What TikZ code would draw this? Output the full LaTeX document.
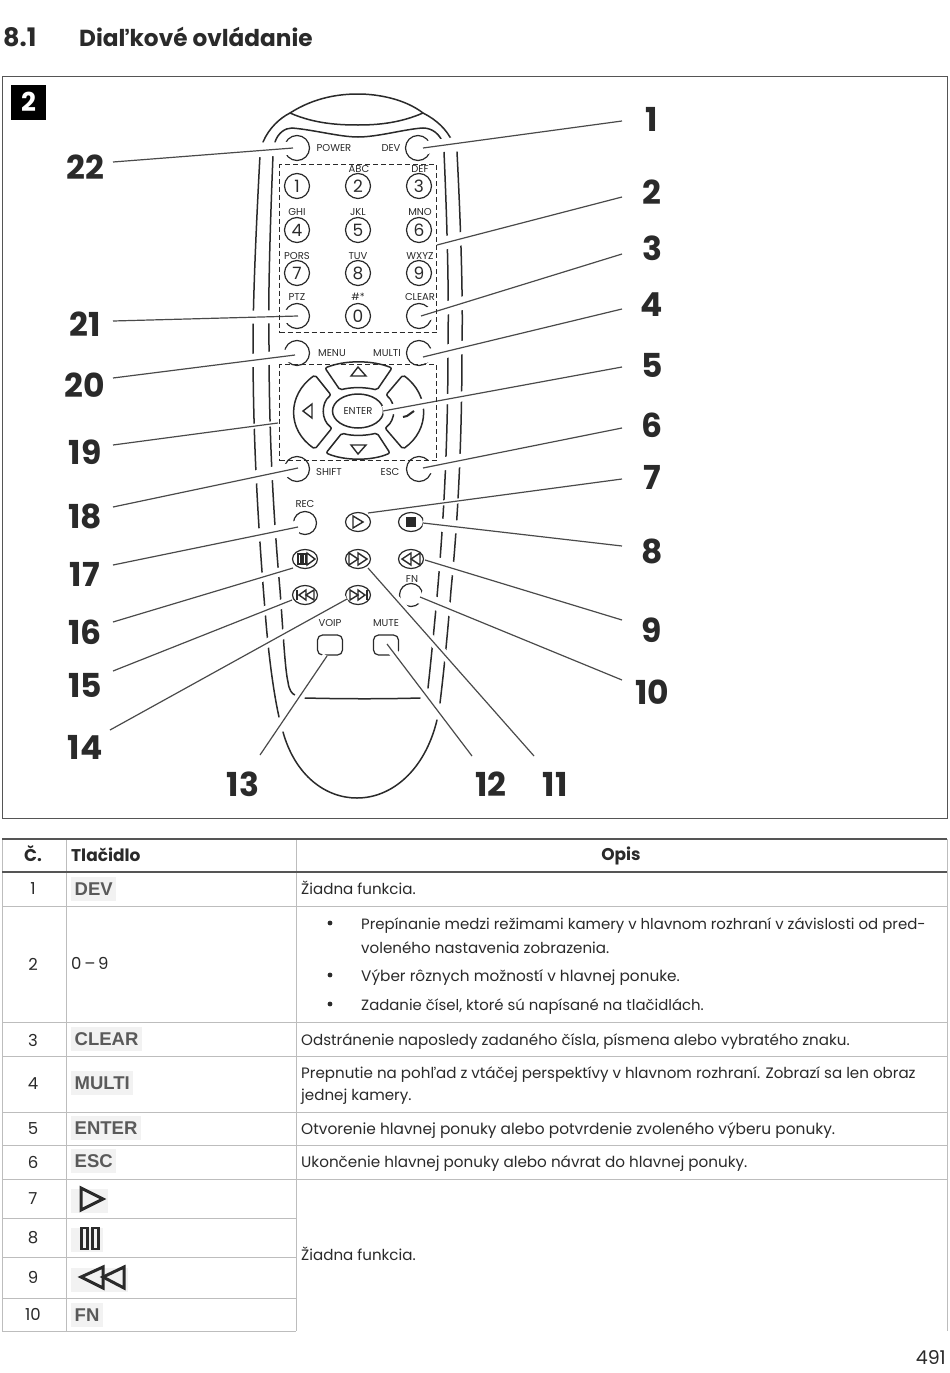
\documentclass[tikz,border=0pt]{standalone}
\usepackage{fontspec}
\setmainfont{Poppins}
\newfontfamily\keyfont{Liberation Sans}
\usetikzlibrary{shapes.geometric}
\definecolor{tline}{HTML}{BDBDBD}
\definecolor{tdark}{HTML}{555555}
\definecolor{ink}{HTML}{2A2A2A}
\definecolor{keybg}{HTML}{F2F2F2}
\definecolor{keytx}{HTML}{5A5A5A}
\tikzset{
 body/.style={line width=1.5pt,draw=ink,line cap=round},
 leader/.style={line width=1.2pt,draw=ink!85,preaction={draw=white,line width=#1,line cap=butt}},
 leader/.default=13pt,
 bignum/.style={font=\fontsize{33}{33}\selectfont\bfseries,text=ink,inner sep=0pt},
 btn/.style={circle,draw=ink,line width=1.2pt,minimum size=25pt,inner sep=0pt,font=\fontsize{17}{17}\selectfont,text=ink},
 oval/.style={ellipse,draw=ink,line width=1.2pt,minimum width=25pt,minimum height=19pt,inner sep=0pt},
 rbtn/.style={draw=ink,line width=1.2pt,rounded corners=5pt,minimum width=25pt,minimum height=20pt,inner sep=0pt},
 lab/.style={font=\fontsize{10}{10}\selectfont,text=ink,inner sep=0pt},
 dashbox/.style={draw=ink,line width=1pt,dash pattern=on 5pt off 3pt},
 icon/.style={draw=ink,line width=1.4pt,line join=miter},
 tx/.style={anchor=base west,font=\fontsize{15.1}{24}\selectfont,text=ink,inner sep=0pt},
 cn/.style={font=\fontsize{16.5}{20}\selectfont,text=ink,inner sep=0pt},
 th/.style={font=\fontsize{17}{20}\selectfont\bfseries,text=ink,inner sep=0pt},
 key/.style={anchor=west,font=\keyfont\fontsize{18.5}{20}\selectfont\bfseries,text=keytx,fill=keybg,inner xsep=3.5pt,inner ysep=0pt,minimum height=24pt},
 gl/.style={draw=tline,line width=1pt},
 gd/.style={draw=tdark,line width=1.6pt},
 ticon/.style={draw=ink,line width=3pt,line join=miter},
}
\newcommand{\ldr}[5][13pt]{\draw[leader={#1}] ([shift={(#3)}]#2.center) -- ([shift={(#5)}]#4);}
\begin{document}
\begin{tikzpicture}[x=1pt,y=-1pt]
\useasboundingbox (0,0) rectangle (950,1373);
\fill[white] (0,0) rectangle (950,1373);
% heading
\node[anchor=base west,inner sep=0pt,font=\fontsize{25.5}{24}\selectfont\bfseries,text=ink] (hnum) at (3,46) {8.1};
\node[anchor=base west,inner sep=0pt,font=\fontsize{23.2}{24}\selectfont\bfseries,text=ink] (htitle) at (79,46) {Diaľkové ovládanie};
% frame
\node[draw=tdark,line width=1pt,minimum width=945pt,minimum height=742pt,inner sep=0pt,anchor=north west] (frame) at (2,76) {};
\node[fill=black,text=white,minimum size=35pt,inner sep=0pt,font=\fontsize{26}{26}\selectfont\bfseries] (tag) at (28.5,102) {2};
% remote body
\draw[body] (263,142) .. controls (269,128) and (280,118) .. (290,113) .. controls (315,97) and (340,94) .. (358,94) .. controls (378,94) and (405,99) .. (423,113) .. controls (437,120) and (447,130) .. (452,141);
\draw[body] (290,113) .. controls (315,124) and (340,125) .. (358,125) .. controls (378,125) and (400,123) .. (423,113);
\draw[body] (275,142) .. controls (278,133) and (285,128) .. (292,128) .. controls (315,130) and (340,137) .. (358,137) .. controls (378,137) and (405,129) .. (423,128) .. controls (433,128) and (440,135) .. (443,143);
\draw[body] (260,155) .. controls (256,230) and (253,300) .. (253,345) .. controls (253,420) and (256,500) .. (265,610) .. controls (268,650) and (273,690) .. (279,717);
\draw[body] (273,155) .. controls (270,230) and (268,300) .. (269,345) .. controls (269,420) and (272,500) .. (280,590) .. controls (283,630) and (285,670) .. (288,682) .. controls (289,690) and (292,694) .. (295,695);
\draw[body] (444,152) .. controls (447,220) and (449,290) .. (448,345) .. controls (448,440) and (444,520) .. (436,608) .. controls (433,640) and (430,670) .. (428,688);
\draw[body] (457,152) .. controls (461,230) and (463,300) .. (462,345) .. controls (462,440) and (458,520) .. (451,590) .. controls (448,630) and (444,670) .. (440,703);
\draw[body] (283,732) .. controls (295,775) and (325,798) .. (357,798) .. controls (392,798) and (425,770) .. (437,720);
\draw[body] (305,698) .. controls (345,699) and (385,699) .. (420,698);
% buttons
\node[btn] (bpower) at (297,148) {};
\node[btn] (bdev) at (418,148) {};
\foreach \n/\x/\y in {1/297/186,2/358/186,3/419/186,4/297/230,5/358/230,6/419/230,7/297/273,8/358/273,9/419/273,0/358/316}
  \node[btn] (b\n) at (\x,\y) {\n};
\node[btn] (bptz) at (297,316) {};
\node[btn] (bclear) at (419,316) {};
\node[btn] (bmenu) at (297,353) {};
\node[btn] (bmulti) at (419,353) {};
\node[btn] (bshift) at (297,469) {};
\node[btn] (besc) at (419,469) {};
\node[btn,minimum size=23pt] (brec) at (305,523) {};
\node[oval] (bplay) at (358,522) {};
\node[oval] (bstop) at (411,522) {};
\node[oval] (bpp) at (305,559) {};
\node[oval] (bff) at (358,559) {};
\node[oval] (brw) at (411,559) {};
\node[oval] (bprev) at (305,595) {};
\node[oval] (bnext) at (358,595) {};
\node[btn,minimum size=23pt] (bfn) at (411,595) {};
\node[rbtn] (bvoip) at (330,645) {};
\node[rbtn] (bmute) at (386,645) {};
% nav pad
\draw[body,rounded corners=2pt] (325,368) .. controls (345,360) and (372,360) .. (392,368) -- (377,390) .. controls (365,387) and (351,387) .. (340,390) -- cycle;
\draw[body,rounded corners=2pt] (326,453) .. controls (345,461) and (372,461) .. (390,453) -- (377,433) .. controls (365,436) and (351,436) .. (342,433) -- cycle;
\draw[body,rounded corners=2pt] (315,375) .. controls (287,395) and (287,430) .. (315,449) -- (332,428) .. controls (321,420) and (321,403) .. (331,395) -- cycle;
\draw[body,rounded corners=2pt] (403,375) .. controls (430,395) and (430,430) .. (403,449) -- (385,428) .. controls (396,420) and (396,403) .. (386,395) -- cycle;
\node[ellipse,draw=ink,line width=1.5pt,minimum width=51pt,minimum height=34pt,inner sep=0pt,font=\fontsize{10}{10}\selectfont,text=ink] (benter) at (358,411) {ENTER};
% numbers
\foreach \n/\x/\y in {1/652/119,2/652/192,3/652/248,4/652/305,5/652/365,6/652/425,7/652/477,8/652/551,9/652/630,10/652/692,11/555/784,12/491/784,13/243/784,14/85/747,15/85/685,16/85/632,17/85/574,18/85/516,19/85/452,20/85/385,21/85/324,22/85/167}
  \node[bignum] (n\n) at (\x,\y) {\n};
\coordinate (padE) at (437,245);
\coordinate (navW) at (278,423);
% leaders
\ldr{n1}{-30,2}{bdev.center}{5,0}
\ldr{n2}{-30,5}{padE}{0,0}
\ldr{n3}{-30,6}{bclear.center}{2,0}
\ldr{n4}{-30,4}{bmulti.center}{4,4}
\ldr[10pt]{n5}{-30,2}{benter.center}{25,0}
\ldr{n6}{-30,3}{besc.center}{4,-1}
\ldr[5pt]{n7}{-30,2}{bplay.center}{10,-9}
\ldr{n8}{-30,-5}{bstop.center}{12,1}
\ldr{n9}{-30,-10}{brw.center}{14,1}
\ldr{n10}{-30,-12}{bfn.center}{9,2}
\ldr[9pt]{n11}{-21,-28}{bff.center}{10,9}
\ldr[9pt]{n12}{-19,-28}{bmute.center}{1,-1}
\ldr[9pt]{n13}{17,-29}{bvoip.center}{-3,11}
\ldr[9pt]{n14}{25,-17}{bnext.center}{-11,4}
\ldr[9pt]{n15}{28,-14}{bprev.center}{-13,5}
\ldr[9pt]{n16}{28,-10}{bpp.center}{-12,9}
\ldr{n17}{28,-9}{brec.center}{-7,4}
\ldr{n18}{28,-9}{bshift.center}{1,-1}
\ldr[5pt]{n19}{28,-7}{navW}{0,0}
\ldr{n20}{28,-7}{bmenu.center}{-2,2}
\ldr{n21}{28,-3}{bptz.center}{1,0}
\ldr{n22}{28,-5}{bpower.center}{-4,0}
% nav icons
\draw[icon] (358,367) -- (366,376) -- (351,376) -- cycle;
\draw[icon] (358,454) -- (366,445) -- (351,445) -- cycle;
\draw[icon] (312,404) -- (303,411) -- (312,418) -- cycle;
\draw[draw=ink,line width=2pt] (403,417) -- (407,416) -- (414,411);
% dashed boxes
\node[dashbox,minimum width=157pt,minimum height=168pt,inner sep=0pt,anchor=north west] (padbox) at (279,164) {};
\node[dashbox,minimum width=157pt,minimum height=96pt,inner sep=0pt,anchor=north west] (navbox) at (279,364) {};
% button labels
\foreach \t/\x/\y/\nm in {POWER/334/148/lpower,DEV/391/148/ldev,ABC/359/169/labc,DEF/420/169/ldef,GHI/297/212/lghi,JKL/358/212/ljkl,MNO/420/212/lmno,PORS/297/256/lpqrs,TUV/358/256/ltuv,WXYZ/420/256/lwxyz,PTZ/297/297/lptz,\#*/358/297/lhash,CLEAR/420/297/lclear,MENU/332/353/lmenu,MULTI/387/353/lmulti,SHIFT/329/472/lshift,ESC/390/472/lesc,REC/305/504/lrec,FN/412/579/lfn,VOIP/330/623/lvoip,MUTE/386/623/lmute}
  \node[lab] (\nm) at (\x,\y) {\t};
% media icons
\draw[icon] (353,516) -- (363,522) -- (353,528) -- cycle;
\fill[ink] (406,517) rectangle (416,527);
\draw[icon] (298,554) rectangle (301,564); \draw[icon] (303,554) rectangle (306,564); \draw[icon] (307,553) -- (315,559) -- (307,565) -- cycle;
\draw[icon] (349,553) -- (358,559) -- (349,565) -- cycle; \draw[icon] (358,553) -- (367,559) -- (358,565) -- cycle;
\draw[icon] (402,559) -- (411,553) -- (411,565) -- cycle; \draw[icon] (411,559) -- (420,553) -- (420,565) -- cycle;
\draw[icon] (297,590) -- (297,600); \draw[icon] (299,595) -- (306,590) -- (306,600) -- cycle; \draw[icon] (306,595) -- (314,590) -- (314,600) -- cycle;
\draw[icon] (350,590) -- (358,595) -- (350,600) -- cycle; \draw[icon] (358,590) -- (365,595) -- (358,600) -- cycle; \draw[icon] (367,590) -- (367,600);
% table grid
\foreach \y in {906,1022,1056,1112,1145,1179} \draw[gl] (2,\y) -- (947,\y);
\foreach \y in {1218,1257,1298,1331} \draw[gl] (2,\y) -- (296,\y);
\draw[gl] (2,839) -- (2,1331);
\draw[gl] (66,839) -- (66,1331);
\draw[gl] (296,839) -- (296,1331);
\draw[gl] (947,839) -- (947,1331);
\draw[gd] (2,839) -- (947,839);
\draw[gd] (2,872) -- (947,872);
% table header
\node[th] (hc) at (33,854) {Č.};
\node[th,anchor=west] (hb) at (71,855) {Tlačidlo};
\node[th] (ho) at (621,856) {Opis};
% first column
\foreach \n/\y in {1/889,2/964,3/1040,4/1084,5/1129,6/1162,7/1199,8/1238,9/1277,10/1314}
  \node[cn] (c\n) at (33,\y) {\n};
% second column
\node[key] (k1) at (71,889) {DEV};
\node[tx,font=\fontsize{16.5}{20}\selectfont] (k2) at (71,969) {0\,–\,9};
\node[key] (k3) at (71,1039) {CLEAR};
\node[key] (k4) at (71,1083) {MULTI};
\node[key] (k5) at (71,1128) {ENTER};
\node[key] (k6) at (71,1161) {ESC};
\fill[keybg] (71,1189) rectangle (108,1213);
\fill[keybg] (71,1228) rectangle (103,1252);
\fill[keybg] (71,1268) rectangle (128,1292);
\draw[ticon] (81,1188) -- (103,1199) -- (81,1210) -- cycle;
\draw[ticon,line width=2.4pt] (81.5,1228) rectangle (87.5,1249);
\draw[ticon,line width=2.4pt] (92.5,1228) rectangle (98.5,1249);
\draw[ticon] (81,1277) -- (103,1267) -- (103,1288) -- cycle;
\draw[ticon] (103,1277) -- (124,1267) -- (124,1288) -- cycle;
\node[key] (k10) at (71,1315) {FN};
% third column
\node[tx] (d1) at (301,894) {Žiadna funkcia.};
\node[tx,font=\fontsize{14.95}{24}\selectfont] (d2a) at (361,929) {Prepínanie medzi režimami kamery v hlavnom rozhraní v závislosti od pred-};
\node[tx] (d2b) at (361,953) {voleného nastavenia zobrazenia.};
\node[tx,font=\fontsize{15.3}{24}\selectfont] (d2c) at (361,981) {Výber rôznych možností v hlavnej ponuke.};
\node[tx,font=\fontsize{14.9}{24}\selectfont] (d2d) at (361,1010) {Zadanie čísel, ktoré sú napísané na tlačidlách.};
\foreach \y in {923,975,1004} \fill[ink] (330,\y) circle (2.4pt);
\node[tx] (d3) at (301,1045) {Odstránenie naposledy zadaného čísla, písmena alebo vybratého znaku.};
\node[tx] (d4a) at (301,1078) {Prepnutie na pohľad z vtáčej perspektívy v hlavnom rozhraní. Zobrazí sa len obraz};
\node[tx] (d4b) at (301,1100) {jednej kamery.};
\node[tx,font=\fontsize{15.4}{24}\selectfont] (d5) at (301,1134) {Otvorenie hlavnej ponuky alebo potvrdenie zvoleného výberu ponuky.};
\node[tx,font=\fontsize{15.2}{24}\selectfont] (d6) at (301,1167) {Ukončenie hlavnej ponuky alebo návrat do hlavnej ponuky.};
\node[tx] (d7) at (301,1260) {Žiadna funkcia.};
\node[anchor=base east,inner sep=0pt,font=\fontsize{19}{20}\selectfont,text=ink] (pg) at (946,1364) {491};
\end{tikzpicture}
\end{document}
